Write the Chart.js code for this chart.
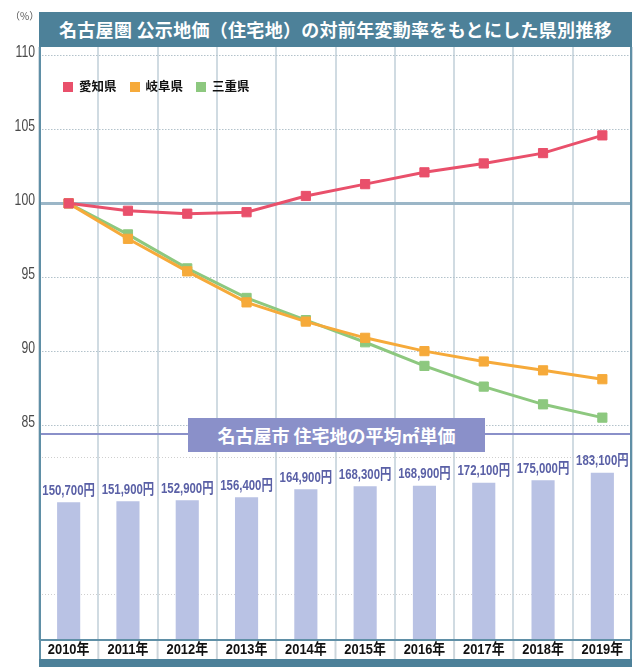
<!DOCTYPE html>
<html lang="ja">
<head>
<meta charset="UTF-8">
<title>名古屋圏 公示地価（住宅地）の対前年変動率</title>
<script src="https://cdn.jsdelivr.net/npm/chart.js"></script>
<style>
  body { margin: 0; background: #fff; font-family: 'Noto Sans CJK JP', sans-serif; }
  #wrap { position: relative; width: 640px; height: 671px; overflow: hidden; }
  #chart { position: absolute; left: 0; top: 0; }
  .banner { position: absolute; color: #fff; font-weight: bold; text-align: center; white-space: nowrap; }
  #title { left: 39px; top: 12px; width: 593px; height: 35px; line-height: 35px; background: #4d8199; font-size: 18px; letter-spacing: 0.3px; }
  #subtitle { left: 188px; top: 418px; width: 297px; height: 34px; line-height: 34px; background: #8a90c9; font-size: 18px; }
  #unit { position: absolute; left: 10px; top: 8px; font-size: 10px; color: #555; }
  #legend { position: absolute; left: 63px; top: 77px; line-height: 18px; font-size: 12.5px; font-weight: bold; color: #111; }
  #legend .item { display: inline-block; margin-right: 13px; }
  #legend .box { display: inline-block; width: 10px; height: 10px; margin-right: 6px; vertical-align: -1px; }
</style>
</head>
<body>
<div id="wrap">
  <canvas id="chart" width="640" height="671"></canvas>
  <div id="unit">（%）</div>
  <div id="title" class="banner">名古屋圏 公示地価（住宅地）の対前年変動率をもとにした県別推移</div>
  <div id="legend"></div>
  <div id="subtitle" class="banner">名古屋市 住宅地の平均㎡単価</div>
</div>
<script>
  // 年
  const years = ['2010年', '2011年', '2012年', '2013年', '2014年', '2015年', '2016年', '2017年', '2018年', '2019年'];

  // 変動率 (2010年 = 100)
  const seriesNames = ['愛知県', '岐阜県', '三重県'];
  const seriesColors = ['#e9506b', '#f6aa3a', '#8dc87f'];
  const aichi = [100, 99.5, 99.3, 99.4, 100.5, 101.3, 102.1, 102.7, 103.4, 104.6];
  const gifu = [100, 97.6, 95.4, 93.3, 92.0, 90.9, 90.0, 89.3, 88.7, 88.1];
  const mie = [100, 97.9, 95.6, 93.6, 92.1, 90.6, 89.0, 87.6, 86.4, 85.5];
  const rateTicks = [85, 90, 95, 100, 105, 110];

  // 名古屋市 住宅地の平均㎡単価 (円)
  const unitPrice = [150700, 151900, 152900, 156400, 164900, 168300, 168900, 172100, 175000, 183100];
  const priceGrid = [50000, 200000];

  const latin = "'Liberation Sans', 'Noto Sans CJK JP', sans-serif";

  // legend (html)
  const legendEl = document.getElementById('legend');
  seriesNames.forEach((name, i) => {
    legendEl.innerHTML += '<span class="item"><span class="box" style="background:' + seriesColors[i] + '"></span>' + name + '</span>';
  });

  // condensed text: no narrow font installed, so squeeze it
  function narrowText(ctx, text, x, y, sx) {
    ctx.save();
    ctx.translate(x, y);
    ctx.scale(sx, 1);
    ctx.fillText(text, 0, 0);
    ctx.restore();
  }

  const frame = {
    id: 'frame',
    afterDraw(chart) {
      const ctx = chart.ctx;
      const area = chart.chartArea;
      const yb = chart.scales.yb;
      const y = chart.scales.y;
      const bandTop = 659;
      ctx.save();

      // label row separators
      const step = (area.right - area.left) / years.length;
      ctx.strokeStyle = '#cdd6dc';
      ctx.lineWidth = 2;
      for (let i = 1; i < years.length; i++) {
        const x = area.left + i * step;
        ctx.beginPath();
        ctx.moveTo(x, area.bottom);
        ctx.lineTo(x, bandTop);
        ctx.stroke();
      }

      // line between the two sections
      ctx.strokeStyle = '#8a90c9';
      ctx.beginPath();
      ctx.moveTo(area.left, yb.top + 1);
      ctx.lineTo(area.right, yb.top + 1);
      ctx.stroke();

      // bottom axis line + band
      ctx.strokeStyle = '#5f8fa6';
      ctx.beginPath();
      ctx.moveTo(area.left, area.bottom);
      ctx.lineTo(area.right, area.bottom);
      ctx.stroke();
      ctx.fillStyle = '#4d8199';
      ctx.fillRect(area.left, bandTop, area.right - area.left, 8);

      // side borders
      ctx.beginPath();
      ctx.moveTo(area.left + 1, area.top);
      ctx.lineTo(area.left + 1, bandTop);
      ctx.moveTo(area.right - 1, area.top);
      ctx.lineTo(area.right - 1, bandTop);
      ctx.stroke();

      // y tick labels
      ctx.fillStyle = '#4a4a4a';
      ctx.font = '17px ' + latin;
      ctx.textAlign = 'right';
      ctx.textBaseline = 'middle';
      rateTicks.forEach(v => narrowText(ctx, String(v), 35, y.getPixelForValue(v) - 3, 0.72));

      // bar value labels
      const meta = chart.getDatasetMeta(3);
      ctx.fillStyle = '#5a60a6';
      ctx.font = 'bold 15px ' + latin;
      ctx.textAlign = 'center';
      ctx.textBaseline = 'bottom';
      meta.data.forEach((bar, i) => {
        narrowText(ctx, unitPrice[i].toLocaleString('en-US') + '円', bar.x, bar.y - 4, 0.76);
      });

      // x labels
      ctx.fillStyle = '#111';
      ctx.font = 'bold 15px ' + latin;
      ctx.textBaseline = 'middle';
      chart.scales.x.ticks.forEach((t, i) => {
        narrowText(ctx, years[i], chart.scales.x.getPixelForTick(i), 650, 0.86);
      });
      ctx.restore();
    }
  };

  const lineSet = (label, data, color) => ({
    type: 'line',
    label: label,
    data: data,
    yAxisID: 'y',
    borderColor: color,
    backgroundColor: color,
    borderWidth: 3,
    pointStyle: 'rect',
    pointRadius: 6.5,
    pointBorderWidth: 1,
    pointBorderColor: color,
    pointBackgroundColor: color,
    tension: 0,
    fill: false,
    order: 1
  });

  new Chart(document.getElementById('chart'), {
    type: 'bar',
    data: {
      labels: years,
      datasets: [
        lineSet(seriesNames[0], aichi, seriesColors[0]),
        lineSet(seriesNames[1], gifu, seriesColors[1]),
        lineSet(seriesNames[2], mie, seriesColors[2]),
        {
          type: 'bar',
          label: '平均㎡単価',
          data: unitPrice,
          yAxisID: 'yb',
          backgroundColor: '#b9c2e4',
          categoryPercentage: 1,
          barPercentage: 0.39,
          order: 10
        }
      ]
    },
    options: {
      responsive: false,
      animation: false,
      layout: { padding: { top: 47, right: 8, left: 0, bottom: 0 } },
      plugins: { legend: { display: false }, tooltip: { enabled: false } },
      scales: {
        x: {
          type: 'category',
          offset: true,
          grid: { offset: true, color: '#d0dbe2', lineWidth: 2, drawTicks: false },
          border: { display: false },
          ticks: { display: false },
          afterFit: s => { s.height = 31; }
        },
        yb: {
          position: 'left',
          stack: 'v',
          stackWeight: 207,
          min: 0,
          max: 226600,
          afterBuildTicks: s => { s.ticks = priceGrid.map(v => ({ value: v })); },
          ticks: { display: false },
          grid: { color: '#cfcfcf', lineWidth: 1, drawTicks: false },
          border: { display: false, dash: [1, 2] },
          afterFit: s => { s.width = 39; }
        },
        y: {
          position: 'left',
          stack: 'v',
          stackWeight: 386,
          min: 84.46,
          max: 110.58,
          afterBuildTicks: s => { s.ticks = rateTicks.map(v => ({ value: v })); },
          grid: {
            color: c => c.tick && c.tick.value === 100 ? '#9bb6c7' : '#b3c2cb',
            lineWidth: c => c.tick && c.tick.value === 100 ? 3 : 1,
            drawTicks: false
          },
          border: { display: false, dash: c => c.tick && c.tick.value === 100 ? [] : [1.5, 1.5] },
          ticks: { display: false },
          afterFit: s => { s.width = 39; }
        }
      }
    },
    plugins: [frame]
  });
</script>
</body>
</html>
